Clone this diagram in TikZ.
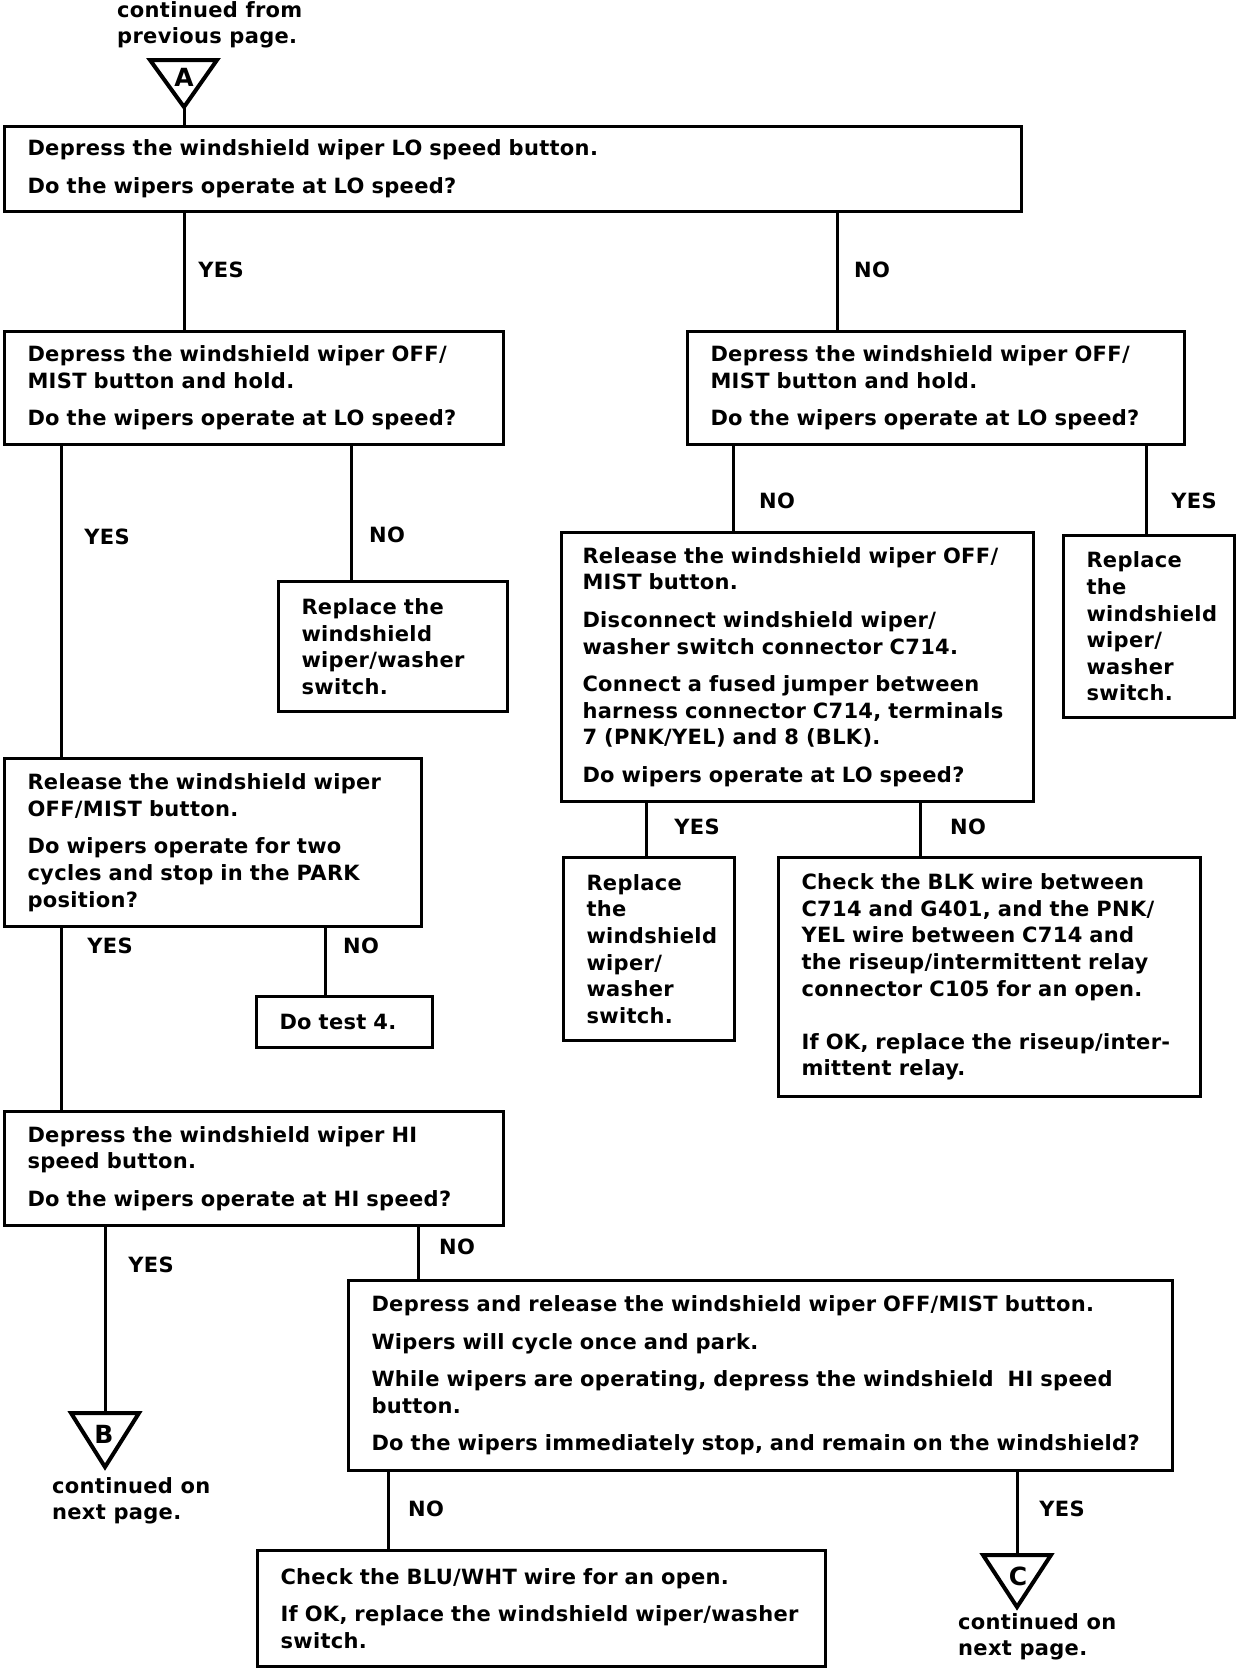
\documentclass[tikz,border=0pt]{standalone}
\usepackage{fontspec}
\setmainfont{DejaVu Sans}[LetterSpace=1.5]
\begin{document}
\begin{tikzpicture}[x=1pt,y=-1pt,
  every node/.style={font=\fontsize{21}{26.6}\selectfont\bfseries},
  box/.style={draw, line width=3pt, anchor=north west, align=left, inner xsep=23pt, inner ysep=0pt},
  lbl/.style={inner sep=0pt},
  letter/.style={inner sep=0pt, font=\fontsize{25}{28}\selectfont\bfseries},
  cont/.style={anchor=north west, align=left, inner sep=0pt},
  conn/.style={line width=3pt},
  tri/.style={line width=4pt, line join=miter}]
\useasboundingbox (0,0) rectangle (1248,1668);

% boxes
\node[box, text width=971pt, minimum height=85pt] (b1) at (3,125)
 {Depress the windshield wiper LO speed button.\\[11pt]
  Do the wipers operate at LO speed?};
\node[box, text width=453pt, minimum height=113pt] (b2) at (3,330)
 {Depress the windshield wiper OFF/\\MIST button and hold.\\[11pt]
  Do the wipers operate at LO speed?};
\node[box, text width=451pt, minimum height=113pt] (b3) at (686,330)
 {Depress the windshield wiper OFF/\\MIST button and hold.\\[11pt]
  Do the wipers operate at LO speed?};
\node[box, text width=183pt, minimum height=130pt] (r1) at (277,580)
 {Replace the\\windshield\\wiper/washer\\switch.};
\node[box, inner xsep=21pt, text width=430pt, minimum height=269pt] (bb) at (560,531)
 {Release the windshield wiper OFF/\\MIST button.\\[11pt]
  Disconnect windshield wiper/\\washer switch connector C714.\\[11pt]
  Connect a fused jumper between\\harness connector C714, terminals\\7 (PNK/YEL) and 8 (BLK).\\[11pt]
  Do wipers operate at LO speed?};
\node[box, text width=125pt, minimum height=182pt] (r2) at (1062,534)
 {Replace\\the\\windshield\\wiper/\\washer\\switch.};
\node[box, text width=371pt, minimum height=168pt] (rel) at (3,757)
 {Release the windshield wiper\\OFF/MIST button.\\[11pt]
  Do wipers operate for two\\cycles and stop in the PARK\\position?};
\node[box, text width=130pt, minimum height=51pt] (t4) at (255,995)
 {Do test 4.};
\node[box, text width=125pt, minimum height=183pt] (r3) at (562,856)
 {Replace\\the\\windshield\\wiper/\\washer\\switch.};
\node[box, text width=376pt, minimum height=239pt] (ck) at (777,856)
 {Check the BLK wire between\\C714 and G401, and the PNK/\\YEL wire between C714 and\\the riseup/intermittent relay\\connector C105 for an open.\\[26.6pt]
  If OK, replace the riseup/inter-\\mittent relay.};
\node[box, text width=453pt, minimum height=114pt] (hi) at (3,1110)
 {Depress the windshield wiper HI\\speed button.\\[11pt]
  Do the wipers operate at HI speed?};
\node[box, text width=778pt, minimum height=190pt] (dr) at (347,1279)
 {Depress and release the windshield wiper OFF/MIST button.\\[11pt]
  Wipers will cycle once and park.\\[11pt]
  While wipers are operating, depress the windshield\ \ HI speed\\button.\\[11pt]
  Do the wipers immediately stop, and remain on the windshield?};
\node[box, text width=522pt, minimum height=116pt] (bl) at (256,1549)
 {Check the BLU/WHT wire for an open.\\[11pt]
  If OK, replace the windshield wiper/washer\\switch.};

% off-page connectors
\draw[tri] (150,60) -- (217,60) -- (184,107) -- cycle;
\coordinate (Aap) at (184,107);
\node[letter] (Al) at (184,77) {A};
\node[cont] (At) at (117,1) {continued from\\previous page.};

\draw[tri] (71,1413) -- (139,1413) -- (105,1467) -- cycle;
\coordinate (Bap) at (105,1413);
\node[letter] (Bl) at (104,1434) {B};
\node[cont] (Bt) at (52,1477) {continued on\\next page.};

\draw[tri] (983,1555) -- (1051,1555) -- (1017,1607) -- cycle;
\coordinate (Cap) at (1017,1555);
\node[letter] (Cl) at (1018,1576) {C};
\node[cont] (Ct) at (958,1613) {continued on\\next page.};

% x positions of connectors
\coordinate (x1) at (837,0);
\coordinate (x2) at (61,0);
\coordinate (x3) at (351,0);
\coordinate (x4) at (733,0);
\coordinate (x5) at (1146,0);
\coordinate (x6) at (325,0);
\coordinate (x7) at (646,0);
\coordinate (x8) at (920,0);
\coordinate (x9) at (418,0);
\coordinate (x10) at (388,0);

% connectors
\draw[conn] (Aap) -- (Aap |- b1.north);
\draw[conn] (b1.south -| Aap) -- (b2.north -| Aap);
\draw[conn] (b1.south -| x1) -- (b3.north -| x1);
\draw[conn] (b2.south -| x2) -- (rel.north -| x2);
\draw[conn] (b2.south -| x3) -- (r1.north -| x3);
\draw[conn] (b3.south -| x4) -- (bb.north -| x4);
\draw[conn] (b3.south -| x5) -- (r2.north -| x5);
\draw[conn] (rel.south -| x2) -- (hi.north -| x2);
\draw[conn] (rel.south -| x6) -- (t4.north -| x6);
\draw[conn] (bb.south -| x7) -- (r3.north -| x7);
\draw[conn] (bb.south -| x8) -- (ck.north -| x8);
\draw[conn] (hi.south -| Bap) -- (Bap);
\draw[conn] (hi.south -| x9) -- (dr.north -| x9);
\draw[conn] (dr.south -| x10) -- (bl.north -| x10);
\draw[conn] (dr.south -| Cap) -- (Cap);

% labels
\node[lbl] (l1) at (221,270) {YES};
\node[lbl] (l2) at (872,270) {NO};
\node[lbl] (l3) at (107,537) {YES};
\node[lbl] (l4) at (387,535) {NO};
\node[lbl] (l5) at (777,501) {NO};
\node[lbl] (l6) at (1194,501) {YES};
\node[lbl] (l7) at (110,946) {YES};
\node[lbl] (l8) at (361,946) {NO};
\node[lbl] (l9) at (697,827) {YES};
\node[lbl] (l10) at (968,827) {NO};
\node[lbl] (l11) at (151,1265) {YES};
\node[lbl] (l12) at (457,1247) {NO};
\node[lbl] (l13) at (426,1509) {NO};
\node[lbl] (l14) at (1062,1509) {YES};
\end{tikzpicture}
\end{document}
